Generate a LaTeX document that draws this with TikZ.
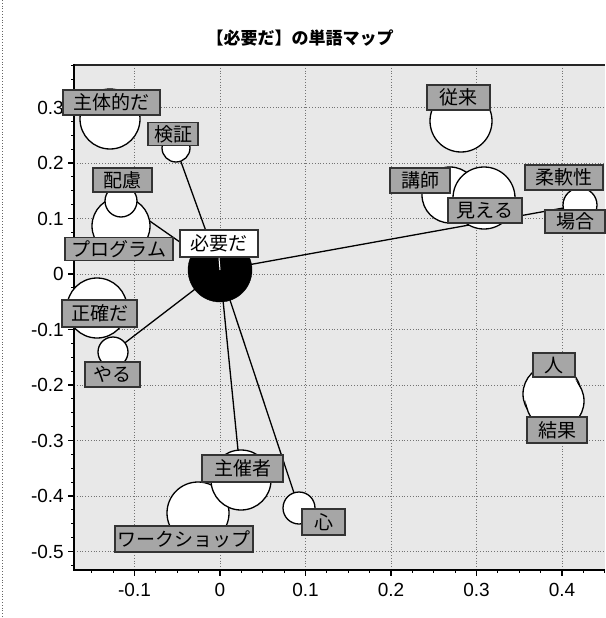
\documentclass[tikz,border=0pt]{standalone}
\usepackage{fontspec}
\setmainfont{Liberation Sans}
\newfontfamily\jp{Noto Sans CJK JP}
\begin{document}
\begin{tikzpicture}[x=1pt,y=-1pt,
  gridline/.style={black!55,dotted,line width=0.8pt},
  conn/.style={black,line width=1.3pt},
  wc/.style={circle,draw=black,line width=1.3pt,fill=white,inner sep=0pt},
  bc/.style={circle,draw=black,fill=black,inner sep=0pt},
  wbox/.style={draw=black!80,line width=1.6pt,fill=black!35,inner sep=0pt,font=\jp\fontsize{19}{19}\selectfont},
  hbox/.style={wbox,fill=white},
  ticklab/.style={inner sep=0pt,font=\fontsize{19}{19}\selectfont},
  ttl/.style={inner sep=0pt,font=\jp\bfseries\fontsize{17}{17}\selectfont}]
\useasboundingbox (0,0) rectangle (605,618);
\fill[white] (0,0) rectangle (605,618);
\draw[black!60,dotted,line width=0.8pt] (2,0) -- (2,618);
% title
\node[ttl] (title) at (300,38) {【必要だ】の単語マップ};
% plot background
\fill[black!9] (74,65) rectangle (605,569);
% grid
\foreach \u in {-0.1,0,0.1,0.2,0.3,0.4}{
  \draw[gridline] ({220+855*\u},65) -- ({220+855*\u},569);
  \node[ticklab] at ({220+855*\u},590) {\ifdim\u pt=0pt 0\else\u\fi};
}
\foreach \v in {0.3,0.2,0.1,0,-0.1,-0.2,-0.3,-0.4,-0.5}{
  \draw[gridline] (74,{274-555*\v}) -- (605,{274-555*\v});
  \node[ticklab,anchor=east] at (64,{274-555*\v}) {\ifdim\v pt=0pt 0\else\v\fi};
}
% minor ticks
\foreach \i in {-6,...,18}{
  \draw[line width=1pt] ({220+855*0.025*\i},570) -- ({220+855*0.025*\i},573);
}
\foreach \i in {-21,...,15}{
  \draw[line width=1pt] (74,{274-555*0.025*\i}) -- (71,{274-555*0.025*\i});
}
% major ticks
\foreach \u in {-0.1,0,0.1,0.2,0.3,0.4}{
  \draw[line width=1.3pt] ({220+855*\u},570) -- ({220+855*\u},576);
}
\foreach \v in {0.3,0.2,0.1,0,-0.1,-0.2,-0.3,-0.4,-0.5}{
  \draw[line width=1.3pt] (74,{274-555*\v}) -- (68,{274-555*\v});
}
% spines
\draw[black!85,line width=1.2pt] (74,65) -- (605,65);
\draw[line width=2.6pt] (74,64) -- (74,570) -- (605,570);
% word points
\coordinate (p_shutai) at (110,119);
\coordinate (p_kensho) at (176,148);
\coordinate (p_hairyo) at (121,201);
\coordinate (p_program) at (121,226);
\coordinate (p_hitsuyo) at (220,270);
\coordinate (p_seikaku) at (97,308);
\coordinate (p_yaru) at (113,352);
\coordinate (p_shusai) at (241,480);
\coordinate (p_ws) at (198,513);
\coordinate (p_kokoro) at (299,508);
\coordinate (p_jurai) at (461,121);
\coordinate (p_koshi) at (450,195);
\coordinate (p_mieru) at (484,198);
\coordinate (p_baai) at (580,205);
\coordinate (p_hito) at (552,394);
\coordinate (p_kekka) at (555,401);
% connectors
\draw[conn] (p_hitsuyo) -- (p_kensho);
\draw[conn] (p_hitsuyo) -- (p_hairyo);
\draw[conn] (p_hitsuyo) -- (p_yaru);
\draw[conn] (p_hitsuyo) -- (p_shusai);
\draw[conn] (p_hitsuyo) -- (p_kokoro);
\draw[conn] (p_hitsuyo) -- (p_baai);
% circles
\node[wc,minimum size=62pt] (c_ws) at (p_ws) {};
\node[wc,minimum size=60pt] (c_shusai) at (p_shusai) {};
\node[wc,minimum size=32pt] (c_kokoro) at (p_kokoro) {};
\node[wc,minimum size=58pt] (c_program) at (p_program) {};
\node[wc,minimum size=32pt] (c_hairyo) at (p_hairyo) {};
\node[wc,minimum size=60pt] (c_shutai) at (p_shutai) {};
\node[wc,minimum size=28pt] (c_kensho) at (p_kensho) {};
\node[wc,minimum size=60pt] (c_seikaku) at (p_seikaku) {};
\node[wc,minimum size=30pt] (c_yaru) at (p_yaru) {};
\node[wc,minimum size=56pt] (c_koshi) at (p_koshi) {};
\node[wc,minimum size=62pt] (c_mieru) at (p_mieru) {};
\node[wc,minimum size=62pt] (c_jurai) at (p_jurai) {};
\node[wc,minimum size=34pt] (c_baai) at (p_baai) {};
\node[wc,minimum size=58pt] (c_hito) at (p_hito) {};
\node[wc,minimum size=58pt] (c_kekka) at (p_kekka) {};
\fill[white] (c_hito.center) circle (27.5pt) (c_kekka.center) circle (27.5pt);
\node[bc,minimum size=64pt] (c_hitsuyo) at (p_hitsuyo) {};
% labels
\node[hbox,minimum width=78pt,minimum height=27pt] (b_hitsuyo) at (219,243.5) {必要だ};
\draw[white,line width=1pt] (c_hitsuyo.center) -- (b_hitsuyo.south);
\node[wbox,minimum width=97pt,minimum height=25pt] (b_shutai) at (111.5,102.5) {主体的だ};
\node[wbox,minimum width=50pt,minimum height=23pt] (b_kensho) at (173,134) {検証};
\node[wbox,minimum width=59pt,minimum height=24pt] (b_hairyo) at (122.5,180) {配慮};
\node[wbox,minimum width=108pt,minimum height=23pt] (b_program) at (119,249) {プログラム};
\node[wbox,minimum width=75pt,minimum height=27pt] (b_seikaku) at (99.5,313.5) {正確だ};
\node[wbox,minimum width=55pt,minimum height=25pt] (b_yaru) at (112.5,374.5) {やる};
\node[wbox,minimum width=81pt,minimum height=27pt] (b_shusai) at (242.5,468.5) {主催者};
\node[wbox,minimum width=138pt,minimum height=26pt] (b_ws) at (184,539) {ワークショップ};
\node[wbox,minimum width=43pt,minimum height=26pt] (b_kokoro) at (323.5,522) {心};
\node[wbox,minimum width=63pt,minimum height=25pt] (b_jurai) at (458.5,97.5) {従来};
\node[wbox,minimum width=60pt,minimum height=25pt] (b_koshi) at (420,180.5) {講師};
\node[wbox,minimum width=74pt,minimum height=25pt] (b_mieru) at (485,210.5) {見える};
\node[wbox,minimum width=78pt,minimum height=25pt] (b_junan) at (564,177.5) {柔軟性};
\node[wbox,minimum width=60pt,minimum height=23pt] (b_baai) at (575,221.5) {場合};
\node[wbox,minimum width=42pt,minimum height=24pt] (b_hito) at (554,365) {人};
\node[wbox,minimum width=60pt,minimum height=26pt] (b_kekka) at (557,430) {結果};
\end{tikzpicture}
\end{document}
